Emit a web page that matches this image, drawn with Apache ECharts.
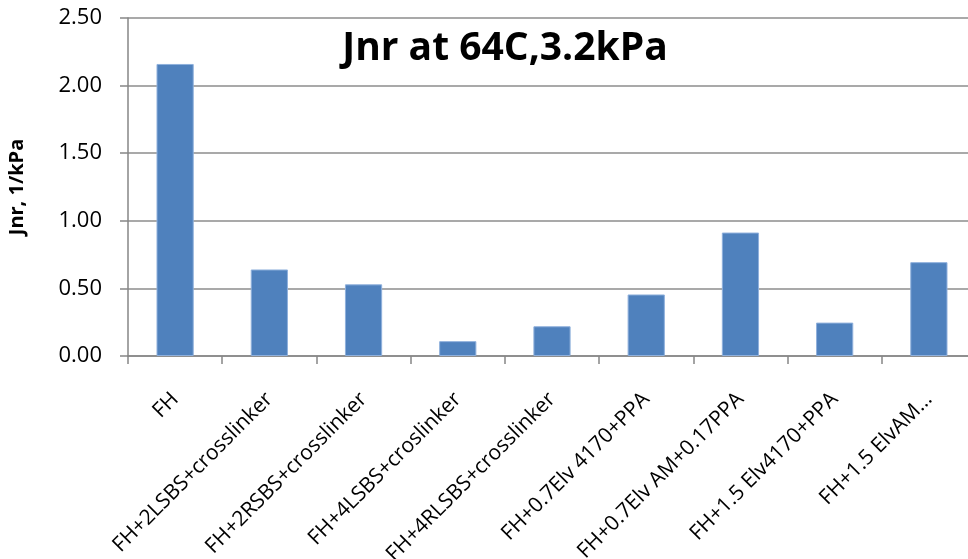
<!DOCTYPE html>
<html>
<head>
<meta charset="utf-8">
<script src="https://cdn.jsdelivr.net/npm/echarts@6/dist/echarts.min.js"></script>
<style>html,body{margin:0;padding:0;background:#fff}#c{width:968px;height:559px}</style>
</head>
<body>
<div id="c"></div>
<script>
const categories = ["FH","FH+2LSBS+crosslinker","FH+2RSBS+crosslinker","FH+4LSBS+croslinker","FH+4RLSBS+crosslinker","FH+0.7Elv 4170+PPA","FH+0.7Elv AM+0.17PPA","FH+1.5 Elv4170+PPA","FH+1.5 ElvAM…"];
const jnrValues = [2.16, 0.64, 0.53, 0.11, 0.22, 0.455, 0.913, 0.247, 0.694];
const yTicks = {min: 0, max: 2.5, interval: 0.5};
const titleText = "Jnr at 64C,3.2kPa";
const yName = "Jnr, 1/kPa";

const chart = echarts.init(document.getElementById('c'), null, {renderer: 'canvas'});
const FONT = '"Open Sans", "DejaVu Sans", sans-serif';
chart.setOption({
  animation: false,
  backgroundColor: '#ffffff',
  title: {
    text: titleText,
    left: 500, top: 24, textAlign: 'center',
    textStyle: {fontFamily: FONT, fontWeight: 'bold', fontSize: 39, color: '#000'}
  },
  grid: {left: 128, top: 18, width: 848, height: 338, containLabel: false, outerBoundsMode: 'none'},
  xAxis: {
    type: 'category',
    data: categories,
    axisLine: {lineStyle: {color: '#868686', width: 1.5}},
    axisTick: {show: true, alignWithLabel: false, length: 8, lineStyle: {color: '#868686', width: 1.5}},
    axisLabel: {
      interval: 0, rotate: 45, margin: 40,
      fontFamily: FONT, fontSize: 21, color: '#000'
    },
    splitLine: {show: false}
  },
  yAxis: {
    type: 'value',
    min: yTicks.min, max: yTicks.max, interval: yTicks.interval,
    name: yName, nameLocation: 'middle', nameGap: 101, nameRotate: 90,
    nameTextStyle: {fontFamily: FONT, fontWeight: 'bold', fontSize: 20, color: '#000'},
    axisLine: {show: true, lineStyle: {color: '#868686', width: 1.5}},
    axisTick: {show: true, length: 8, lineStyle: {color: '#868686', width: 1.5}},
    axisLabel: {
      margin: 26, fontFamily: FONT, fontSize: 22, color: '#000',
      formatter: v => v.toFixed(2)
    },
    splitLine: {show: true, lineStyle: {color: '#8c8c8c', width: 1.5}}
  },
  series: [{
    type: 'bar',
    data: jnrValues,
    barWidth: '39.5%',
    itemStyle: {color: '#4f81bd', borderColor: '#8fb0dc', borderWidth: 1}
  }]
});
</script>
</body>
</html>
